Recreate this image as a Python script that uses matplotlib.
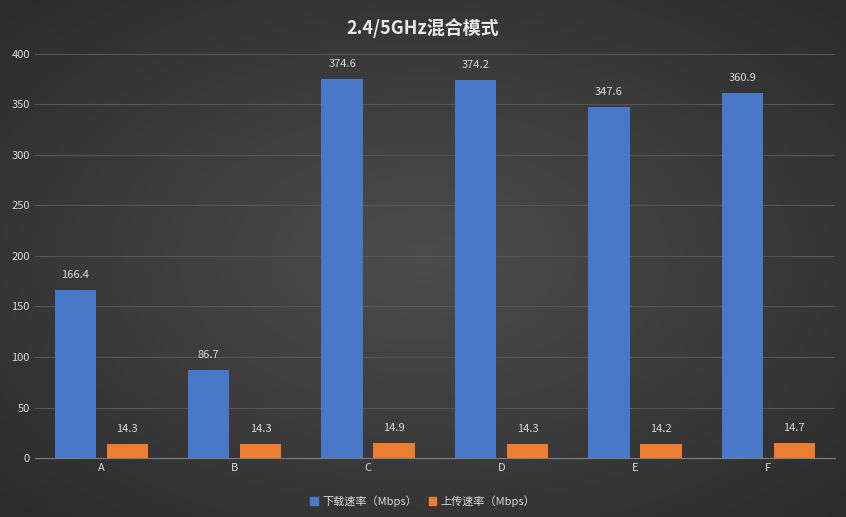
import numpy as np
import matplotlib.pyplot as plt
from matplotlib.patches import Patch

plt.rcParams['font.family'] = ['Noto Sans CJK SC', 'DejaVu Sans']

categories = ["A", "B", "C", "D", "E", "F"]
download = [166.4, 86.7, 374.6, 374.2, 347.6, 360.9]
upload = [14.3, 14.3, 14.9, 14.3, 14.2, 14.7]
title = "2.4/5GHz混合模式"
labels = ["下载速率（Mbps）", "上传速率（Mbps）"]

fig = plt.figure(figsize=(8.46, 5.17), dpi=100)

# radial gradient background, dark gray
bg = fig.add_axes([0, 0, 1, 1], zorder=-10)
yy, xx = np.mgrid[-1:1:300j, -1:1:500j]
r = np.clip(np.sqrt(xx**2 + yy**2) / 1.414, 0, 1)
shade = 0.30 - 0.13 * r
bg.imshow(np.dstack([shade] * 3), aspect="auto", extent=[0, 1, 0, 1])
bg.axis("off")

ax = fig.add_axes([0.041, 0.114, 0.946, 0.782])
ax.patch.set_alpha(0)
x = np.arange(len(categories))
w = 0.31
off = 0.195
b1 = ax.bar(x - off, download, w, color="#4a78c8", zorder=3)
b2 = ax.bar(x + off, upload, w, color="#ed7d31", zorder=3)
for rect, v in zip(b1, download):
    ax.text(rect.get_x() + w / 2, v + 10, f"{v}", ha="center", va="bottom", color="#d9d9d9", fontsize=8)
for rect, v in zip(b2, upload):
    ax.text(rect.get_x() + w / 2, v + 10, f"{v}", ha="center", va="bottom", color="#d9d9d9", fontsize=8)

ax.set_xlim(-0.5, 5.5)
ax.set_ylim(0, 400)
ax.set_yticks(range(0, 401, 50))
ax.set_xticks(x)
ax.set_xticklabels(categories)
ax.tick_params(colors="#d9d9d9", labelsize=8, length=0)
ax.grid(axis="y", color="#555555", linewidth=0.8, zorder=0)
for s in ["top", "right", "left"]:
    ax.spines[s].set_visible(False)
ax.spines["bottom"].set_color("#7f7f7f")

fig.text(0.5, 0.945, title, ha="center", va="center", color="#e8e8e8", fontsize=13, fontweight="bold")
handles = [Patch(color="#4a78c8"), Patch(color="#ed7d31")]
fig.legend(handles, labels, loc="center", bbox_to_anchor=(0.5, 0.03), ncol=2, frameon=False,
           labelcolor="#d9d9d9", fontsize=8, handlelength=0.7, handleheight=0.7, columnspacing=1.0, handletextpad=0.4)

fig.savefig("out.png", dpi=100)
